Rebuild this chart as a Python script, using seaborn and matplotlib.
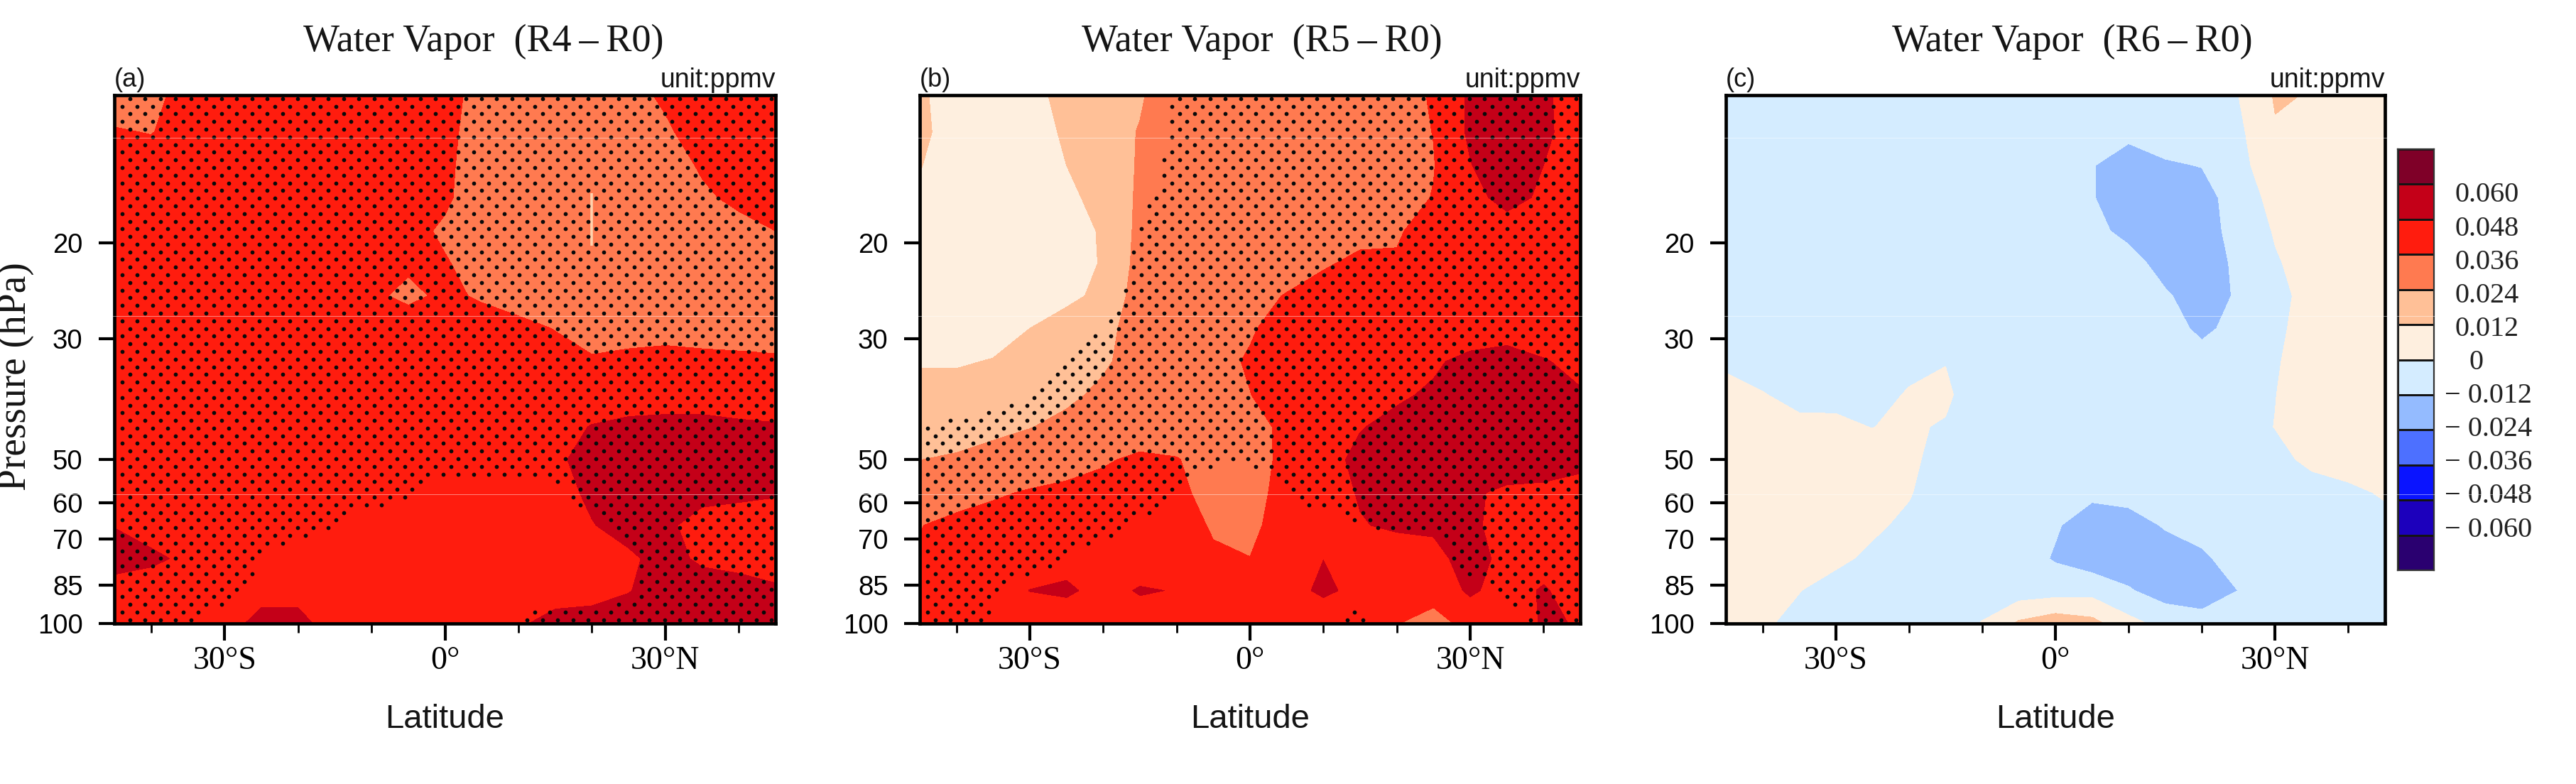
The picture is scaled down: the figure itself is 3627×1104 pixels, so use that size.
import numpy as np
import pandas as pd
import matplotlib
matplotlib.use("Agg")
import matplotlib.pyplot as plt
from matplotlib.lines import Line2D
from matplotlib.colors import ListedColormap
from matplotlib.ticker import NullLocator
import seaborn as sns

# ---------- data, ppmv x 1000 ----------
LATITUDE = [-45, -40, -35, -30, -25, -20, -15, -10, -5, 0, 5, 10, 15, 20, 25, 30, 35, 40, 45]
PRESSURE = [10.7, 12.5, 14.4, 16.5, 19, 21.8, 25, 28.7, 33, 38, 43.5, 50, 57.5, 66, 76, 87, 100]

WV_R4 = [
 [30,33,40,42,42,42,42,42,42,40,32,30,30,30,32,38,42,42,42],
 [37,35.5,41,42,42,42,42,42,42,39,31,30,30,30,30,34,42,42,42],
 [42,42,42,42,42,42,42,42,42,38,31,30,30,30,30,32,37,42,42],
 [42,42,42,42,42,42,42,42,42,38,29,30,30,30,30,31,34.5,38,42],
 [42,42,42,42,42,42,42,42,40,34,30,30,30,30,30,30,32,33,36],
 [42,42,42,42,42,42,42,42,38,37,31,30,30,30,30,30,30,31,31],
 [42,42,42,42,42,42,42,38.5,33,38.5,34.5,30,30,30,30,30,30,30,30],
 [42,42,42,42,42,42,42,42,44,42,42,40,35.5,29,30,31,30,30,30],
 [42,42,42,42,42,42,42,42,42,42,42,42,42,38,40,41,40,39,38],
 [42,42,42,42,42,42,42,42,42,42,42,42,42,42,42,42,42,42,42],
 [42,42,42,42,42,42,42,42,42,42,42,42,44,48.5,51,52,52,50,49],
 [42,42,42,42,42,42,42,42,42,42,42,43,46,52,54,54,54,54,53],
 [42,42,42,42,42,42,42,42,42,42,42,42,44,50,52,52,51,50,49],
 [47.5,44,42,42,42,42,42,42,42,42,42,42,42,47.5,52,50,44,43,42],
 [54,50,46,42,42,42,42,42,42,42,42,42,42,42,46,52,46,44,42],
 [41.5,42,42,42,44,44,42,42,42,42,42,42,42,44,47.5,53,54,53,50],
 [42,42,42,43,52,52,42,42,42,42,42,46,53,53,54,54,54,53,52],
]

WV_R5 = [
 [14,6,6,9,15,18,23,30,32,32,32,32,32,32,37,50,56,50,42],
 [14,8,6,9,13,20,24.5,30,32,32,32,32,32,32,36.2,50,56,50,43],
 [12.5,6,5,8,12,18,25,30,32,32,32,32,32,31,35.5,47.5,56,48,42],
 [10,5,5,7,10,15,26,30,32,32,32,32,32,31,36.5,44,52,46,42],
 [8,4,4,5,8,13,27,30,32,32,32,32,32,35,40,42,42,42,42],
 [7,3,3,4,7.5,12.8,28,30,32,32,32,34.5,39,37,42,44,44,44,44],
 [5,3,3,5,10,14,30,30,31,33,36.5,42,44,44,44,44,44,44,44],
 [7,7,8,12,16,22,27,29,31,35,40,44,44,44,44,44,45,44,42],
 [11,11,12.5,15,19,23,27,30,33,37,42,44,44,45,47,50,51,48.5,46],
 [16,16,17,19,22.5,25.5,28,30,33,35.8,41,44,45,47,49,52,53,52,48.7],
 [20,20.5,22,23.7,26,28,30,31,33,34.5,37,42,47.6,50,52,54,54,54,54],
 [23.9,25,27,29,31,34.8,38,36.5,32,31,39,45,50,52,54,54,54,52,50],
 [27,30,34.5,37,39,40,40,38,33,31,41,45,48.5,52,54,49.5,46,46,45],
 [35.5,40,41,41,41,41,41,39,35.3,33,42,44,47.6,49,49.5,50,44,43,43],
 [37.5,42,42,43,44,43,42,42,37,36.2,42,47.9,44,44,45,52,45,44,44],
 [42,42,43,48.2,50,44,49,47.5,42,42,44,50,45,42,42,49.5,44,49,43],
 [42,42,42,40,40,42,42,42,42,38,42,40,42,36.5,30,41,42,49,47.5],
]

WV_R6 = [
 [-6,-6,-6,-6,-6,-6,-6,-6,-6,-6,-6,-6,-6,-4,0,13,11.5,8,6],
 [-6,-6,-6,-6,-6,-6,-6,-6,-6,-8,-10,-10,-8,-5,-2.5,11,9,7,6],
 [-6,-6,-6,-6,-6,-6,-6,-6,-6,-8,-11.6,-16,-13,-11.7,-2,4,7,7,6],
 [-6,-6,-6,-6,-6,-6,-6,-6,-6,-8,-11.6,-16,-17,-16,-7,4,6,6,6],
 [-6,-6,-6,-6,-6,-6,-6,-6,-6,-7,-10,-14,-18,-18,-7,0.8,5,5,5],
 [-6,-6,-6,-6,-6,-6,-6,-6,-6,-6,-7,-9,-15,-20,-9,-1,4,5,5],
 [-6,-6,-6,-6,-6,-6,-6,-6,-6,-6,-6,-8,-11,-16,-11,-3.5,4,5,5],
 [-6,-6,-6,-6,-6,-6,-6,-6,-6,-6,-6,-6,-8,-14,-9,-2,4,5,5],
 [-1.5,-4,-5,-5,-5,-3,-0.5,-5,-6,-6,-6,-6,-7,-8,-6,-1,5,5,5],
 [3,0.5,-3,-2,-4,1,3,-11,-6,-6,-6,-6,-6,-6,-4,-0.2,5,5,5],
 [5,4,2.5,1.5,-0.2,2,-1.5,-6,-6,-6,-6,-6,-6,-6,-4,0.2,5,5,5],
 [5,5,5,5,4,1.5,-3,-6,-6,-6,-7,-6,-6,-6,-5,-2.6,2,4,5],
 [5,5,5,5,4,0.5,-4,-6,-6,-8,-10,-8,-6,-6,-6,-5,-4,-2,1],
 [5,5,5,4,1.2,-1.5,-6,-6,-7,-11,-17,-17,-11,-8,-6,-5,-4,-4,-3],
 [5,4,3,1.5,-1.5,-4,-6,-6,-7,-13,-18,-18,-18,-14,-7,-5,-5,-5,-5],
 [4,2.5,0.2,-3,-5,-6,-6,-5,-6,-5,-4,-11,-17,-17,-11.9,-5,-5,-5,-5],
 [3,1,-2,-4,-5,-5,-4,0.5,14,20,16,4,-4,-8,-6,-5,-5,-5,-5],
]

# significance field (above 0.5 = stippled)
SIG_R4 = [[1]*19 for _ in range(12)] + [
 [1,1,1,1,1,1,1,1,.55,0,0,0,.2,1,1,1,1,1,1],
 [1,1,1,1,1,1,.45,0,0,0,0,0,0,.2,1,1,1,1,1],
 [1,1,1,1,.4,0,0,0,0,0,0,0,0,0,.2,1,1,1,1],
 [1,1,1,.9,.3,0,0,0,0,0,0,0,0,0,.4,1,1,1,1],
 [1,1,.5,0,0,0,0,0,0,0,.3,.6,1,1,1,1,1,1,1],
]

SIG_R5 = [
 [0,0,0,0,0,0,0,.6,1,1,1,1,1,1,1,1,1,1,1],
 [0,0,0,0,0,0,0,.6,1,1,1,1,1,1,1,1,1,1,1],
 [0,0,0,0,0,0,.2,.7,1,1,1,1,1,1,1,1,1,1,1],
 [0,0,0,0,0,0,.35,.8,1,1,1,1,1,1,1,1,1,1,1],
 [0,0,0,0,0,0,.5,1,1,1,1,1,1,1,1,1,1,1,1],
 [0,0,0,0,0,0,.7,1,1,1,1,1,1,1,1,1,1,1,1],
 [0,0,0,0,0,.2,.75,1,1,1,1,1,1,1,1,1,1,1,1],
 [0,0,0,0,0,.5,1,1,1,1,1,1,1,1,1,1,1,1,1],
 [0,0,0,0,.5,1,1,1,1,1,1,1,1,1,1,1,1,1,1],
 [0,0,0,.55,1,1,1,1,1,1,1,1,1,1,1,1,1,1,1],
 [.55,.7,1,1,1,1,1,1,1,1,1,1,1,1,1,1,1,1,1],
 [1,1,1,1,1,1,1,1,.6,.6,1,1,1,1,1,1,1,1,1],
 [1,1,1,1,1,1,1,.5,0,0,.5,1,1,1,1,1,1,1,1],
 [1,1,1,1,1,1,.4,0,0,0,0,0,.5,.7,.7,1,1,1,1],
 [1,1,1,1,.5,0,0,0,0,0,0,0,0,0,0,1,1,1,1],
 [1,1,.6,0,0,0,0,0,0,0,0,0,0,0,0,.1,.7,1,1],
 [1,1,.35,0,0,0,0,0,0,0,0,0,.9,0,0,0,0,.7,1],
]

LEVELS = [-60, -48, -36, -24, -12, 0, 12, 24, 36, 48, 60]
BAND_COLORS = ["#2A0070", "#1C00BC", "#0A14FF", "#4D70FF", "#94BBFF", "#D4ECFF",
               "#FEEFDF", "#FFC097", "#FF7A50", "#FF1C0E", "#C40018", "#7F0028"]
CBAR_LABELS = ["0.060", "0.048", "0.036", "0.024", "0.012", "0",
               "\u2212 0.012", "\u2212 0.024", "\u2212 0.036", "\u2212 0.048", "\u2212 0.060"]

TITLES = ["Water Vapor  (R4\u2009\u2013\u2009R0)", "Water Vapor  (R5\u2009\u2013\u2009R0)",
          "Water Vapor  (R6\u2009\u2013\u2009R0)"]
PANEL_TAGS = ["(a)", "(b)", "(c)"]
UNIT = "unit:ppmv"
Y_TICKS = [20, 30, 50, 60, 70, 85, 100]
X_TICKS = [-30, 0, 30]
X_TICK_LABELS = ["30\u00b0S", "0\u00b0", "30\u00b0N"]
X_MINOR = [-40, -20, -10, 10, 20, 40]

# ---------- layout in pixels of the 3627x1104 canvas ----------
W, H = 3627, 1104
PANELS = [(161, 1092), (1295, 2225), (2430, 3358)]
TOP, BOTTOM = 134, 878
TITLE_X = [681, 1777, 2918]
CBAR_BOX = (3376, 3427, 210, 803)
CBAR_LABEL_Y = (275, 746)

sns.set_theme(style="ticks", rc={"axes.edgecolor": "black", "xtick.color": "black", "ytick.color": "black",
                                 "text.color": "#151515", "axes.labelcolor": "#151515"})
SERIF = ["Liberation Serif", "DejaVu Serif"]
SANS = ["Liberation Sans", "DejaVu Sans"]
plt.rcParams["font.family"] = SANS

fig = plt.figure(figsize=(W / 100, H / 100), dpi=100, facecolor="white")
fx = lambda px: px / W
fy = lambda px: 1 - px / H


def stipple(ax, sig, lat, logp):
    """Staggered screen-regular dots, kept where the significance field passes 0.5."""
    sig = np.asarray(sig, float)
    dlat, dlogp = 2.08, 10.77 / 765
    rows = np.arange(np.log10(10.7) + dlogp * 0.45, 2.0, dlogp)
    xs, ys = [], []
    for i, lp in enumerate(rows):
        start = -45 + (1.03 if i % 2 else 2.1)
        lats = np.arange(start, 45, dlat)
        col = np.array([np.interp(lp, logp, sig[:, j]) for j in range(sig.shape[1])])
        keep = np.interp(lats, lat, col) > 0.5
        xs.extend(lats[keep])
        ys.extend([10 ** lp] * int(keep.sum()))
    sns.scatterplot(data=pd.DataFrame({"lat": xs, "p": ys}), x="lat", y="p", ax=ax, color="#0a0a0a",
                    s=17, linewidth=0, legend=False, zorder=5, clip_on=True)


lat = np.array(LATITUDE, float)
prs = np.array(PRESSURE, float)
fields = [WV_R4, WV_R5, WV_R6]
sigs = [SIG_R4, SIG_R5, None]

for k, ((x0, x1), fld, sig) in enumerate(zip(PANELS, fields, sigs)):
    ax = fig.add_axes([fx(x0), fy(BOTTOM), (x1 - x0) / W, (BOTTOM - TOP) / H])
    ax.contourf(lat, prs, np.array(fld, float), levels=LEVELS, colors=BAND_COLORS, extend="both")
    if sig is not None:
        stipple(ax, sig, lat, np.log10(prs))
    ax.set_yscale("log")
    ax.set_ylim(100, 10.7)
    ax.set_xlim(-45, 45)
    ax.set_yticks(Y_TICKS)
    ax.set_yticklabels([str(t) for t in Y_TICKS], fontsize=27.5, family=SANS)
    ax.yaxis.set_minor_locator(NullLocator())
    ax.set_xticks(X_TICKS)
    ax.set_xticklabels(X_TICK_LABELS, fontsize=33, family=SERIF)
    ax.set_xticks(X_MINOR, minor=True)
    ax.tick_params(axis="y", length=16, width=3, pad=16)
    ax.tick_params(axis="x", which="major", length=17, width=3, pad=6)
    ax.tick_params(axis="x", which="minor", length=9, width=2)
    ax.set_xlabel("")
    ax.set_ylabel("")
    for s in ax.spines.values():
        s.set_linewidth(3.4)
        s.set_visible(True)
        s.set_zorder(10)
    if k == 0:
        ax.vlines(20, 16.2, 20.2, color="#FFD3AE", lw=2.6, zorder=4)
    fig.text(fx(TITLE_X[k]), fy(59), TITLES[k], family=SERIF, fontsize=39, ha="center", va="center")
    fig.text(fx(x0), fy(113), PANEL_TAGS[k], family=SANS, fontsize=26, ha="left", va="center")
    fig.text(fx(x1), fy(113), UNIT, family=SANS, fontsize=27, ha="right", va="center")
    fig.text(fx((x0 + x1) / 2), fy(1013), "Latitude", family=SANS, fontsize=34, ha="center", va="center")

fig.text(fx(22), fy(530), "Pressure (hPa)", family=SERIF, fontsize=40, rotation=90, ha="center", va="center")

# colour bar
cx0, cx1, cy0, cy1 = CBAR_BOX
cax = fig.add_axes([fx(cx0), fy(cy1), (cx1 - cx0) / W, (cy1 - cy0) / H])
sns.heatmap(np.arange(len(BAND_COLORS))[::-1].reshape(-1, 1), cmap=ListedColormap(BAND_COLORS), cbar=False,
            linewidths=1.8, linecolor="#141414", xticklabels=False, yticklabels=False, ax=cax)
for s in cax.spines.values():
    s.set_visible(True)
    s.set_linewidth(1.6)
    s.set_color("#333333")
for i, lab in enumerate(CBAR_LABELS):
    y = CBAR_LABEL_Y[0] + i * (CBAR_LABEL_Y[1] - CBAR_LABEL_Y[0]) / 10
    x = 3456 if not lab.startswith("\u2212") and lab != "0" else (3476 if lab == "0" else 3442)
    fig.text(fx(x), fy(y), lab, family=SERIF, fontsize=29, ha="left", va="center", color="#222222")

# faint seams that cross the scanned figure
for y in (193.5, 445, 696):
    fig.add_artist(Line2D([0, 1], [fy(y), fy(y)], color="white", lw=0.6, alpha=0.55, zorder=20))

fig.savefig("out.png", dpi=100, facecolor="white")
